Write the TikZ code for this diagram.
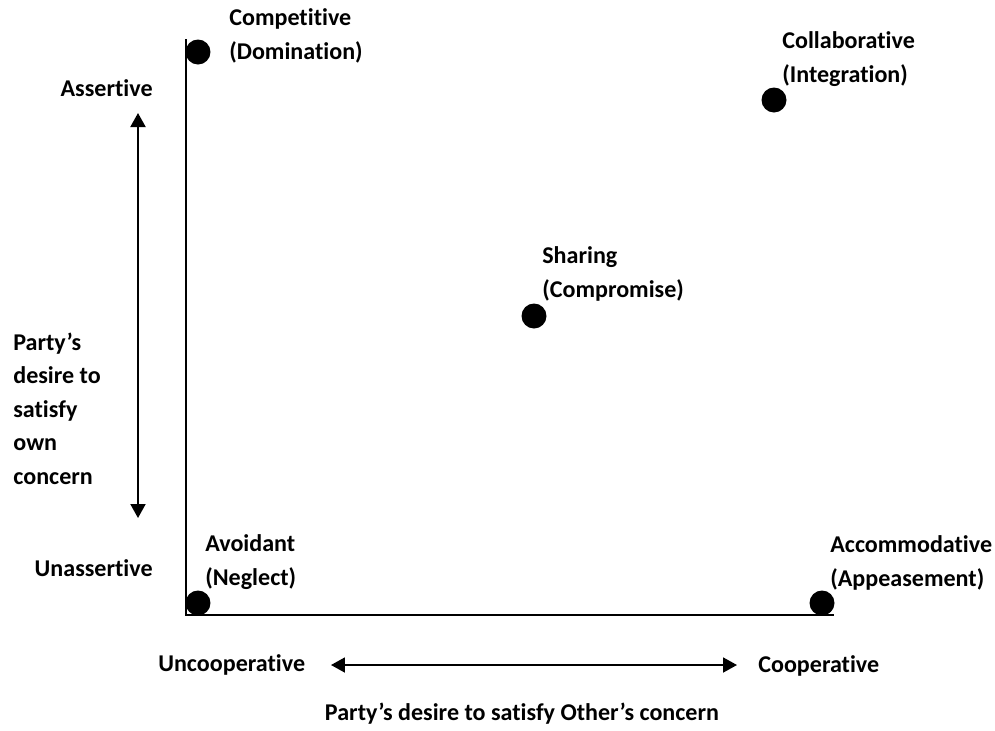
\documentclass[tikz,border=0pt]{standalone}
\usepackage{fontspec}
\setmainfont[Ligatures=NoCommon]{Carlito}
\usetikzlibrary{arrows.meta}

\begin{document}
\begin{tikzpicture}[
    x=0.02cm, y=-0.02cm,   % Una unidad = un pixel, eje y hacia abajo
    font=\bfseries\fontsize{13.7}{19.3}\selectfont, % Letra de las etiquetas
    eje/.style={line width=1.1pt},                   % Ejes del cuadro
    flecha/.style={{Triangle[length=0.28cm,width=0.3cm]}-{Triangle[length=0.28cm,width=0.3cm]}, line width=1.1pt},
    punto/.style={circle, fill=black, inner sep=0pt, minimum size=0.5cm},
    etiqueta/.style={anchor=base west, align=left, inner sep=0pt}, % base = ultima linea
]

\useasboundingbox (0,0) rectangle (995,731);

% --- Ejes (vertical y horizontal) ---
\coordinate (tope) at (186,39);
\coordinate (origen) at (186,615);
\coordinate (fin) at (834,615);
\draw[eje] (tope) -- (origen) -- (fin);

% --- Estilos de manejo del conflicto ---
\node[punto] (competitivo) at (198,52) {};
\node[punto] (colaborativo) at (774,100) {};
\node[punto] (compartido) at (534,316) {};
\node[punto] (evasivo) at (198,603) {};
\node[punto] (complaciente) at (822,603) {};

\node[etiqueta] (competitivoTxt) at (229,59) {Competitive\\(Domination)};
\node[etiqueta] (colaborativoTxt) at (782,82) {Collaborative\\(Integration)};
\node[etiqueta] (compartidoTxt) at (542,297) {Sharing\\(Compromise)};
\node[etiqueta] (evasivoTxt) at (205,585) {Avoidant\\(Neglect)};
\node[etiqueta] (complacienteTxt) at (830,586) {Accommodative\\(Appeasement)};

% --- Flecha vertical: asertividad ---
\coordinate (asertivoTope) at (138,113);
\coordinate (asertivoBase) at (138,518);
\draw[flecha] (asertivoBase) -- (asertivoTope);
\node[anchor=base east, inner sep=0pt] (asertivo) at (153,96) {Assertive};
\node[anchor=base east, inner sep=0pt] (noAsertivo) at (153,576) {Unassertive};
\node[etiqueta, font=\bfseries\fontsize{13.7}{19}\selectfont] (propio) at (13,484)
    {Party’s\\desire to\\satisfy\\own\\concern};

% --- Flecha horizontal: cooperacion ---
\coordinate (cooperaIzq) at (331,665);
\coordinate (cooperaDer) at (737,665);
\draw[flecha] (cooperaIzq) -- (cooperaDer);
\node[anchor=base west, inner sep=0pt] (noCoopera) at (158,671) {Uncooperative};
\node[anchor=base west, inner sep=0pt] (coopera) at (758,672) {Cooperative};
\node[anchor=base, inner sep=0pt] (otro) at (522,720) {Party’s desire to satisfy Other’s concern};

\end{tikzpicture}
\end{document}
